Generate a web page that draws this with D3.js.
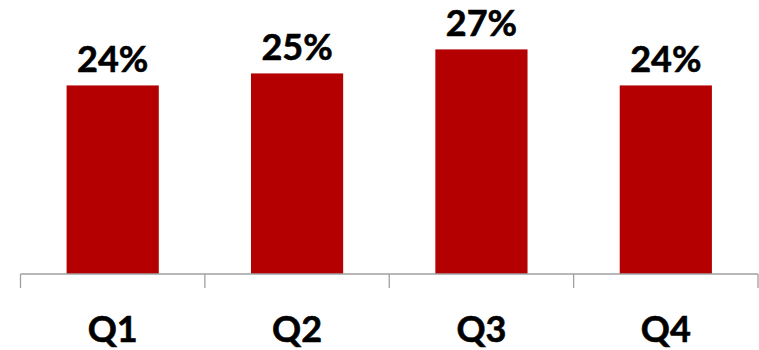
<!DOCTYPE html>
<html>
<head>
<meta charset="utf-8">
<script src="https://cdn.jsdelivr.net/npm/d3@7"></script>
<style>
  html, body { margin: 0; padding: 0; background: #fff; }
  svg { display: block; }
  .lbl { font-family: Lato, "Open Sans", sans-serif; font-weight: 700; fill: #000; stroke: #000; stroke-width: 0.6; }
</style>
</head>
<body>
<svg id="chart" width="759" height="350"></svg>
<script>
// Quarterly share, in percent
const quarters = ["Q1", "Q2", "Q3", "Q4"];
const shares = [24, 25, 27, 24];

const svg = d3.select("#chart");
const baseY = 274;

const x = d3.scaleBand()
  .domain(quarters)
  .range([20.5, 758])
  .paddingInner(0.5)
  .paddingOuter(0.25);

const y = d3.scaleLinear()
  .domain([8.3, 27])
  .range([baseY, 49.4]);

// Bars
svg.append("g")
  .selectAll("rect")
  .data(quarters)
  .join("rect")
  .attr("x", d => x(d))
  .attr("width", x.bandwidth())
  .attr("y", (d, i) => y(shares[i]))
  .attr("height", (d, i) => baseY - y(shares[i]))
  .attr("fill", "#b40000");

// Category axis: baseline with tick marks at band boundaries
const axisG = svg.append("g").attr("stroke", "#a0a0a0").attr("stroke-width", 1.3);
axisG.append("line")
  .attr("x1", x.range()[0]).attr("x2", x.range()[1])
  .attr("y1", baseY).attr("y2", baseY);
const step = x.step();
const bounds = d3.range(quarters.length + 1).map(i => x.range()[0] + i * step);
axisG.selectAll("line.tick")
  .data(bounds)
  .join("line")
  .attr("class", "tick")
  .attr("x1", d => d).attr("x2", d => d)
  .attr("y1", baseY).attr("y2", baseY + 14);

// Category labels
svg.append("g")
  .selectAll("text")
  .data(quarters)
  .join("text")
  .attr("class", "lbl")
  .attr("x", d => x(d) + x.bandwidth() / 2)
  .attr("y", 342)
  .attr("text-anchor", "middle")
  .attr("font-size", 36)
  .text(d => d);

// Value labels above bars
svg.append("g")
  .selectAll("text")
  .data(quarters)
  .join("text")
  .attr("class", "lbl")
  .attr("x", d => x(d) + x.bandwidth() / 2)
  .attr("y", (d, i) => y(shares[i]) - 13.5)
  .attr("text-anchor", "middle")
  .attr("font-size", 36)
  .text((d, i) => shares[i] + "%");
</script>
</body>
</html>
